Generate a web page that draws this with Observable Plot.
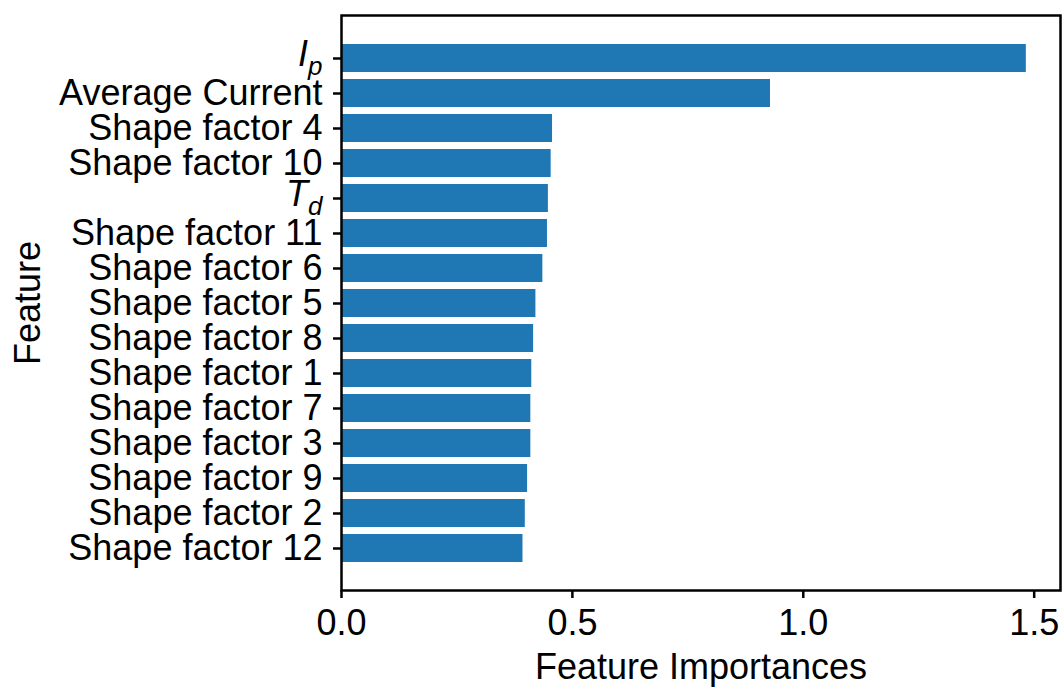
<!DOCTYPE html>
<html>
<head>
<meta charset="utf-8">
<script src="https://cdn.jsdelivr.net/npm/d3@7"></script>
<script src="https://cdn.jsdelivr.net/npm/@observablehq/plot@0.6"></script>
<style>
  html, body { margin: 0; padding: 0; background: #fff; }
  #chart { width: 1064px; height: 688px; }
</style>
</head>
<body>
<div id="chart"></div>
<script>
const features = ["I_p", "Average Current", "Shape factor 4", "Shape factor 10", "T_d",
  "Shape factor 11", "Shape factor 6", "Shape factor 5", "Shape factor 8", "Shape factor 1",
  "Shape factor 7", "Shape factor 3", "Shape factor 9", "Shape factor 2", "Shape factor 12"];
const importances = [1.483, 0.929, 0.457, 0.454, 0.448, 0.446, 0.436, 0.421, 0.416, 0.412,
  0.410, 0.410, 0.403, 0.398, 0.393];
const xTicks = [0, 0.5, 1.0, 1.5];
const xLabel = "Feature Importances";
const yLabel = "Feature";

const data = features.map((f, i) => ({feature: f, value: importances[i]}));
const font = "'Liberation Sans', Arial, Helvetica, sans-serif";

const plot = Plot.plot({
  width: 1064,
  height: 688,
  marginLeft: 341,
  marginRight: 4,
  marginTop: 15,
  marginBottom: 98,
  style: {fontFamily: font, fontSize: "36px", color: "#000", background: "#fff"},
  x: {domain: [0, 1.557]},
  y: {domain: features, paddingInner: 0.2, paddingOuter: 0.7},
  marks: [
    Plot.barX(data, {x: "value", y: "feature", fill: "#1f77b4"}),
    Plot.frame({stroke: "#000", strokeWidth: 2.5}),
    Plot.axisX({ticks: xTicks, tickFormat: d3.format(".1f"), tickSize: 8, tickPadding: 11,
      strokeWidth: 2.5, fontSize: 36, label: null}),
    Plot.axisY({tickSize: 8, tickPadding: 11, strokeWidth: 2.5, fontSize: 36, label: null}),
    Plot.text([xLabel], {frameAnchor: "bottom", dy: 76.5, lineAnchor: "middle", textAnchor: "middle", fontSize: 36, fill: "#000"}),
    Plot.text([yLabel], {frameAnchor: "left", dx: -313, rotate: -90, lineAnchor: "middle", textAnchor: "middle", fontSize: 36, fill: "#000"})
  ]
});

// render subscripted math labels
plot.querySelectorAll("text").forEach(t => {
  const s = t.textContent;
  if (s === "I_p" || s === "T_d") {
    const [base, sub] = s.split("_");
    t.textContent = "";
    const ns = "http://www.w3.org/2000/svg";
    const a = document.createElementNS(ns, "tspan");
    a.setAttribute("font-style", "italic");
    a.setAttribute("dy", "-0.12em");
    a.textContent = base;
    const b = document.createElementNS(ns, "tspan");
    b.setAttribute("font-style", "italic");
    b.setAttribute("font-size", "26");
    b.setAttribute("dy", "0.35em");
    b.textContent = sub;
    t.appendChild(a);
    t.appendChild(b);
  }
});

document.getElementById("chart").appendChild(plot);
</script>
</body>
</html>
